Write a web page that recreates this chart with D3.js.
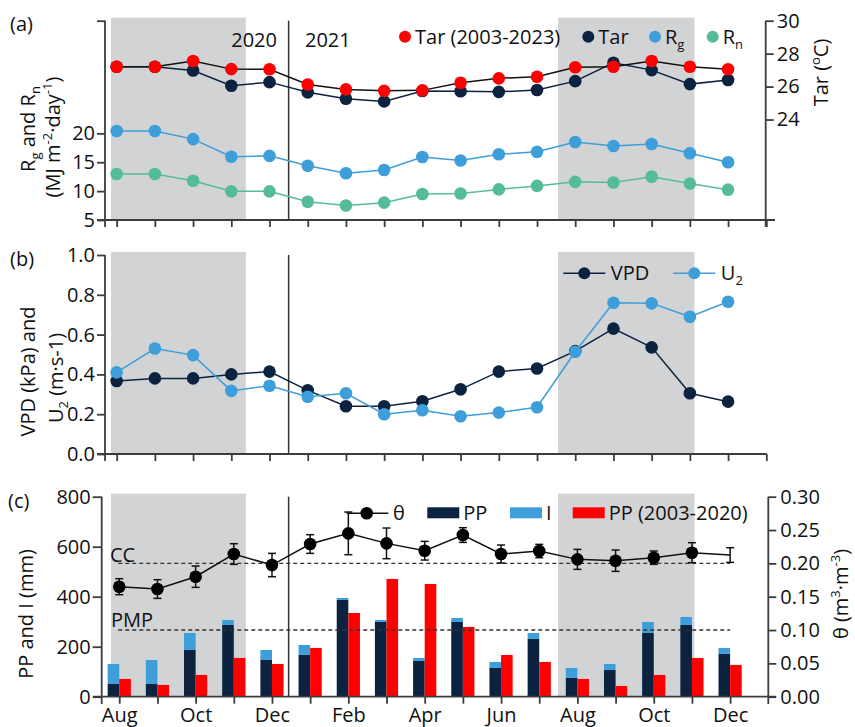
<!DOCTYPE html>
<meta charset="utf-8">
<head>
  <title>Tar, Rg, Rn, VPD, U2, PP and theta</title>
</head>

<style>
  body { margin: 0; background: #fff; }
  svg text { font-family: "Open Sans", sans-serif; fill: #111; }
</style>

<body>
  <svg width="855" height="727"></svg>

  <script src="https://cdn.jsdelivr.net/npm/d3@7/dist/d3.min.js"></script>
  <script>

// ---- data (Aug 2020 .. Dec 2021) ----
var months = ["Aug","Sep","Oct","Nov","Dec","Jan","Feb","Mar","Apr","May","Jun","Jul","Aug","Sep","Oct","Nov","Dec"]
var tarHist = [27.20,27.20,27.55,27.06,27.05,26.13,25.83,25.74,25.77,26.23,26.50,26.60,27.17,27.20,27.55,27.20,27.05]
var tar     = [27.20,27.20,26.98,26.05,26.27,25.65,25.26,25.10,25.73,25.72,25.68,25.79,26.33,27.45,27.00,26.15,26.40]
var rg      = [20.4,20.4,19.0,15.95,16.1,14.4,13.1,13.65,15.9,15.3,16.37,16.8,18.5,17.8,18.15,16.55,15.0]
var rn      = [12.96,12.96,11.8,9.96,9.96,8.17,7.5,8.0,9.5,9.6,10.3,10.9,11.6,11.5,12.5,11.3,10.25]
var vpd     = [0.367,0.38,0.38,0.40,0.414,0.32,0.24,0.24,0.265,0.325,0.414,0.43,0.517,0.63,0.536,0.305,0.263]
var u2      = [0.41,0.53,0.497,0.317,0.343,0.288,0.305,0.20,0.22,0.19,0.208,0.235,0.514,0.76,0.757,0.69,0.765]
var pp      = [51,51,187,287,147,167,387,299,143,299,115,231,75,107,255,287,171]
var interc  = [80,96,68,20,40,40,8,8,12,16,24,24,40,24,44,32,24]
var ppHist  = [71,47,87,155,131,195,335,471,451,279,167,139,71,43,87,155,127]
var theta   = [0.165,0.1615,0.18,0.214,0.1975,0.229,0.245,0.23,0.219,0.2425,0.214,0.2185,0.206,0.204,0.2085,0.216,0.2125]
var thetaErr= [0.012,0.014,0.016,0.0155,0.0175,0.014,0.032,0.023,0.014,0.011,0.0135,0.01,0.015,0.016,0.01,0.015,0.011]
var shadeRanges = [[-0.15, 3.38], [11.55, 15.12]]  // in month index
var yearSplit = 4.5
var ccLevel = 0.20, pmpLevel = 0.10

var navy = "#0b2341", blue = "#3d9eda", green = "#55bc9b", red = "#ff0000",
    gray = "#d2d3d5", axisColor = "#3c3c3c"

var svg = d3.select("svg")
var idx = d3.range(months.length)

// scales
var xA = d3.scaleLinear().domain([-0.305, 17]).range([105, 766.3])
var xC = d3.scaleLinear().domain([-0.46, 17]).range([101.7, 768.3])

var yRad = d3.scaleLinear().domain([5, 39.5]).range([220, 20.7])
var yTar = d3.scaleLinear().domain([17.9, 30]).range([220, 20.7])
var yVpd = d3.scaleLinear().domain([0, 1]).range([454, 255])
var yPP  = d3.scaleLinear().domain([0, 800]).range([696.7, 496.7])
var yTh  = d3.scaleLinear().domain([0, 0.3]).range([696.7, 496.7])

function styleAxis(g) {
    g.attr("font-family", null).attr("font-size", null)
    g.select(".domain").remove()
    g.selectAll(".tick line").attr("stroke", axisColor).attr("stroke-width", 1.8)
    g.selectAll(".tick text").attr("font-size", 20).attr("fill", "#111")
}

function hline(x1, x2, y) {
    svg.append("line").attr("x1", x1).attr("x2", x2).attr("y1", y).attr("y2", y)
        .attr("stroke", axisColor).attr("stroke-width", 1.8)
}
function vline(x, y1, y2) {
    svg.append("line").attr("x1", x).attr("x2", x).attr("y1", y1).attr("y2", y2)
        .attr("stroke", axisColor).attr("stroke-width", 1.8)
}

function background(top, bottom, x, sep) {
    svg.append("g").selectAll("rect").data(shadeRanges).enter().append("rect")
        .attr("x", d => xA(d[0])).attr("width", d => xA(d[1]) - xA(d[0]))
        .attr("y", top - 3).attr("height", bottom - top + 3)
        .attr("fill", gray)
    if (sep) {
        svg.append("line").attr("x1", xA(yearSplit)).attr("x2", xA(yearSplit))
            .attr("y1", top).attr("y2", bottom)
            .attr("stroke", "#333").attr("stroke-width", 1.5)
    }
}

function series(values, x, y, color, lineColor, r) {
    var line = d3.line().x((d, i) => x(i)).y(d => y(d))
    svg.append("path").datum(values).attr("d", line)
        .attr("fill", "none").attr("stroke", lineColor).attr("stroke-width", 1.5)
    svg.append("g").selectAll("circle").data(values).enter().append("circle")
        .attr("cx", (d, i) => x(i)).attr("cy", d => y(d)).attr("r", r)
        .attr("fill", color)
}

// rotated axis title; parts = [[text, kind]] kind: "", "sub", "sup"
function rotTitle(x, y, parts) {
    var t = svg.append("text").attr("transform", "translate(" + x + "," + y + ") rotate(-90)")
        .attr("text-anchor", "middle").attr("font-size", 20)
    richText(t, parts)
}
function richText(t, parts) {
    var shift = 0
    parts.forEach(function(p) {
        var s = t.append("tspan").text(p[0])
        var target = p[1] == "sub" ? 5 : p[1] == "sup" ? -8 : 0
        s.attr("dy", target - shift)
        if (p[1]) s.attr("font-size", 13)
        shift = target
    })
}

// =============== panel (a) ===============
background(20.7, 220, xA, true)

svg.append("text").attr("x", 277).attr("y", 47).attr("text-anchor", "end").attr("font-size", 20).text("2020")
svg.append("text").attr("x", 305).attr("y", 47).attr("font-size", 20).text("2021")

series(rn, xA, yRad, green, green, 6.3)
series(rg, xA, yRad, blue, blue, 6.3)
series(tar, xA, yTar, navy, navy, 6.3)
series(tarHist, xA, yTar, red, "#111", 6.3)

svg.append("g").attr("transform", "translate(0,220)")
    .call(d3.axisBottom(xA).tickValues(d3.range(18)).tickFormat("").tickSize(7).tickSizeOuter(0))
    .call(styleAxis)
hline(97, 775, 220)

svg.append("g").attr("transform", "translate(105,0)")
    .call(d3.axisLeft(yRad).tickValues([5, 10, 15, 20, 39.5])
        .tickFormat(d => d > 20 ? "" : d).tickSize(8).tickPadding(2).tickSizeOuter(0))
    .call(styleAxis)
vline(105, 20.7, 227)

svg.append("g").attr("transform", "translate(765.7,0)")
    .call(d3.axisRight(yTar).tickValues([24, 26, 28, 30]).tickSize(8).tickPadding(3).tickSizeOuter(0))
    .call(styleAxis)
vline(765.7, 20.7, 227)

rotTitle(35, 129, [["R", ""], ["g", "sub"], [" and R", ""], ["n", "sub"]])
rotTitle(60, 137, [["(MJ m", ""], ["-2", "sup"], ["·day", ""], ["-1", "sup"], [")", ""]])
rotTitle(828, 72.5, [["Tar (", ""], ["o", "sup"], ["C)", ""]])
svg.append("text").attr("x", 10).attr("y", 31).attr("font-size", 20).text("(a)")

// legend (a)
var legA = [
    {c: red, x: 405, parts: [["Tar (2003-2023)", ""]]},
    {c: navy, x: 588.3, parts: [["Tar", ""]]},
    {c: blue, x: 655, parts: [["R", ""], ["g", "sub"]]},
    {c: green, x: 712.7, parts: [["R", ""], ["n", "sub"]]}
]
legA.forEach(function(d) {
    svg.append("circle").attr("cx", d.x).attr("cy", 36.7).attr("r", 6).attr("fill", d.c)
    var t = svg.append("text").attr("x", d.x + 10).attr("y", 43.5).attr("font-size", 20)
    richText(t, d.parts)
})

// =============== panel (b) ===============
background(255, 454, xA, true)

series(vpd, xA, yVpd, navy, navy, 6.3)
series(u2, xA, yVpd, blue, blue, 6.3)

svg.append("g").attr("transform", "translate(0,454)")
    .call(d3.axisBottom(xA).tickValues(d3.range(18)).tickFormat("").tickSize(7).tickSizeOuter(0))
    .call(styleAxis)
hline(97, 766.7, 454)

svg.append("g").attr("transform", "translate(105,0)")
    .call(d3.axisLeft(yVpd).tickValues(d3.range(0, 1.01, 0.2)).tickFormat(d3.format(".1f"))
        .tickSize(8).tickPadding(2).tickSizeOuter(0))
    .call(styleAxis)
vline(105, 255, 461)

rotTitle(35, 371.5, [["VPD (kPa) and", ""]])
rotTitle(63, 378, [["U", ""], ["2", "sub"], [" (m·s-1)", ""]])
svg.append("text").attr("x", 10).attr("y", 266).attr("font-size", 20).text("(b)")

var legB = [
    {c: navy, x: 584.3, parts: [["VPD", ""]]},
    {c: blue, x: 694.3, parts: [["U", ""], ["2", "sub"]]}
]
legB.forEach(function(d) {
    svg.append("line").attr("x1", d.x - 21).attr("x2", d.x + 21).attr("y1", 273.3).attr("y2", 273.3)
        .attr("stroke", d.c).attr("stroke-width", 1.5)
    svg.append("circle").attr("cx", d.x).attr("cy", 273.3).attr("r", 6).attr("fill", d.c)
    var t = svg.append("text").attr("x", d.x + 26.5).attr("y", 280).attr("font-size", 20)
    richText(t, d.parts)
})

// =============== panel (c) ===============
background(496.7, 696.7, xA, true)

var barW = 11.6
var bars = svg.append("g")
bars.selectAll(".pp").data(pp).enter().append("rect")
    .attr("x", (d, i) => xC(i) - barW).attr("width", barW)
    .attr("y", d => yPP(d)).attr("height", d => yPP(0) - yPP(d))
    .attr("fill", navy)
bars.selectAll(".ic").data(interc).enter().append("rect")
    .attr("x", (d, i) => xC(i) - barW).attr("width", barW)
    .attr("y", (d, i) => yPP(pp[i] + d)).attr("height", (d, i) => yPP(pp[i]) - yPP(pp[i] + d))
    .attr("fill", blue)
bars.selectAll(".ph").data(ppHist).enter().append("rect")
    .attr("x", (d, i) => xC(i)).attr("width", barW)
    .attr("y", d => yPP(d)).attr("height", d => yPP(0) - yPP(d))
    .attr("fill", red)

// CC / PMP
;[ccLevel, pmpLevel].forEach(function(v) {
    svg.append("line").attr("x1", xC(0) - 1).attr("x2", xC(16)).attr("y1", yTh(v)).attr("y2", yTh(v))
        .attr("stroke", "#333").attr("stroke-width", 1.4).attr("stroke-dasharray", "4,3")
})
svg.append("text").attr("x", 110).attr("y", yTh(ccLevel) - 1.5).attr("font-size", 20).text("CC")
svg.append("text").attr("x", 111).attr("y", yTh(pmpLevel) - 3).attr("font-size", 20).text("PMP")

// theta
var thLine = d3.line().x((d, i) => xC(i)).y(d => yTh(d))
svg.append("path").datum(theta).attr("d", thLine)
    .attr("fill", "none").attr("stroke", "#111").attr("stroke-width", 1.5)
var eb = svg.append("g").attr("stroke", "#111").attr("stroke-width", 1.5)
idx.forEach(function(i) {
    var x = xC(i), y1 = yTh(theta[i] + thetaErr[i]), y2 = yTh(theta[i] - thetaErr[i])
    eb.append("line").attr("x1", x).attr("x2", x).attr("y1", y1).attr("y2", y2)
    eb.append("line").attr("x1", x - 4).attr("x2", x + 4).attr("y1", y1).attr("y2", y1)
    eb.append("line").attr("x1", x - 4).attr("x2", x + 4).attr("y1", y2).attr("y2", y2)
})
svg.append("g").selectAll("circle").data(theta.slice(0, theta.length - 1)).enter().append("circle")
    .attr("cx", (d, i) => xC(i)).attr("cy", d => yTh(d)).attr("r", 6.3).attr("fill", "#000")

// axes (c)
svg.append("g").attr("transform", "translate(0,696.7)")
    .call(d3.axisBottom(xC).tickValues(d3.range(17)).tickSize(7).tickPadding(4).tickSizeOuter(0)
        .tickFormat(i => i % 2 == 0 ? months[i] : ""))
    .call(styleAxis)
hline(93, 776, 696.7)

svg.append("g").attr("transform", "translate(101.7,0)")
    .call(d3.axisLeft(yPP).tickValues([0, 200, 400, 600, 800]).tickSize(9).tickPadding(2).tickSizeOuter(0))
    .call(styleAxis)
vline(101.7, 496.7, 704)

svg.append("g").attr("transform", "translate(768.3,0)")
    .call(d3.axisRight(yTh).tickValues(d3.range(0, 0.301, 0.05)).tickFormat(d3.format(".2f"))
        .tickSize(8).tickPadding(4).tickSizeOuter(0))
    .call(styleAxis)
vline(768.3, 496.7, 704)

rotTitle(33, 614, [["PP and I (mm)", ""]])
rotTitle(848, 594, [["θ (m", ""], ["3", "sup"], ["·m", ""], ["-3", "sup"], [")", ""]])
svg.append("text").attr("x", 8).attr("y", 508).attr("font-size", 20).text("(c)")

// legend (c)
svg.append("line").attr("x1", 346.7).attr("x2", 388.3).attr("y1", 513.3).attr("y2", 513.3)
    .attr("stroke", "#111").attr("stroke-width", 1.5)
svg.append("circle").attr("cx", 366.7).attr("cy", 513.3).attr("r", 6.3).attr("fill", "#000")
svg.append("text").attr("x", 393).attr("y", 520).attr("font-size", 20).text("θ")
var legC = [
    {c: navy, x: 427.3, label: "PP"},
    {c: blue, x: 510, label: "I"},
    {c: red, x: 572.7, label: "PP (2003-2020)"}
]
legC.forEach(function(d) {
    svg.append("rect").attr("x", d.x).attr("y", 507.3).attr("width", 32).attr("height", 11).attr("fill", d.c)
    svg.append("text").attr("x", d.x + 36).attr("y", 520).attr("font-size", 20).text(d.label)
})

  </script>
</body>
</html>
